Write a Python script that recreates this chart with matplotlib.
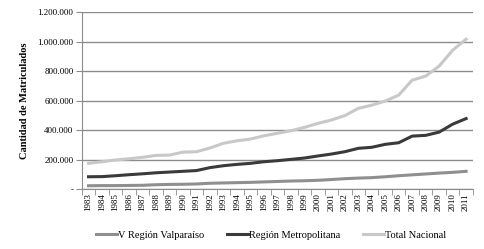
import matplotlib
matplotlib.use("Agg")
import matplotlib.pyplot as plt
from matplotlib.ticker import FixedLocator, FuncFormatter

years = list(range(1983, 2012))
valparaiso = [22000, 23000, 23000, 24000, 25000, 29000, 31000, 32000, 34000, 39000,
              41000, 43000, 45000, 48000, 51000, 54000, 56000, 59000, 64000, 70000,
              74000, 77000, 83000, 90000, 96000, 102000, 108000, 113000, 120000]
metropolitana = [83000, 84000, 90000, 97000, 103000, 110000, 115000, 120000, 125000, 145000,
                 158000, 167000, 174000, 185000, 192000, 201000, 210000, 224000, 237000, 253000,
                 276000, 283000, 303000, 314000, 359000, 364000, 386000, 440000, 478000]
total = [174000, 185000, 197000, 205000, 215000, 228000, 230000, 250000, 253000, 278000,
         310000, 327000, 339000, 361000, 378000, 395000, 418000, 445000, 468000, 498000,
         547000, 569000, 597000, 637000, 739000, 766000, 834000, 942000, 1017000]
yticks = [0, 200000, 400000, 600000, 800000, 1000000, 1200000]

plt.rcParams['font.family'] = ['Liberation Serif', 'DejaVu Serif']

fig = plt.figure(figsize=(4.84, 2.49), dpi=100)
ax = fig.add_axes([0.169, 0.241, 0.808, 0.710])

x = list(range(len(years)))
ax.plot(x, valparaiso, color='#8f8f8f', lw=2.2, label='V Región Valparaíso')
ax.plot(x, metropolitana, color='#3a3a3a', lw=2.2, label='Región Metropolitana')
ax.plot(x, total, color='#c8c8c8', lw=2.2, label='Total Nacional')

ax.set_xlim(-0.5, len(years) - 0.5)
ax.set_ylim(0, 1200000)
ax.set_yticks(yticks)
ax.yaxis.set_major_formatter(FuncFormatter(
    lambda v, p: '-' if v == 0 else f'{int(v):,}'.replace(',', '.')))
ax.grid(axis='y', color='#8c8c8c', lw=1)
ax.set_axisbelow(True)

ax.set_xticks(x)
ax.set_xticklabels([str(y) for y in years], rotation=90, fontsize=6.5)
ax.xaxis.set_minor_locator(FixedLocator([i - 0.5 for i in range(len(years) + 1)]))
ax.tick_params(axis='x', which='major', length=0, pad=3)
ax.tick_params(axis='x', which='minor', length=4, color='#8c8c8c', direction='out')
ax.tick_params(axis='y', length=4, color='#8c8c8c', labelsize=6.5, pad=2)

for s in ['top', 'right']:
    ax.spines[s].set_visible(False)
ax.spines['left'].set_color('#8c8c8c')
ax.spines['bottom'].set_color('#8c8c8c')

ax.set_ylabel('Cantidad de Matriculados', fontsize=7.5, fontweight='bold', labelpad=6)

fig.legend(loc='lower center', ncol=3, frameon=False, fontsize=7.5,
           bbox_to_anchor=(0.56, 0.0), handlelength=2.0, columnspacing=2.2,
           handletextpad=0.1)

fig.savefig('out.png', dpi=100)
